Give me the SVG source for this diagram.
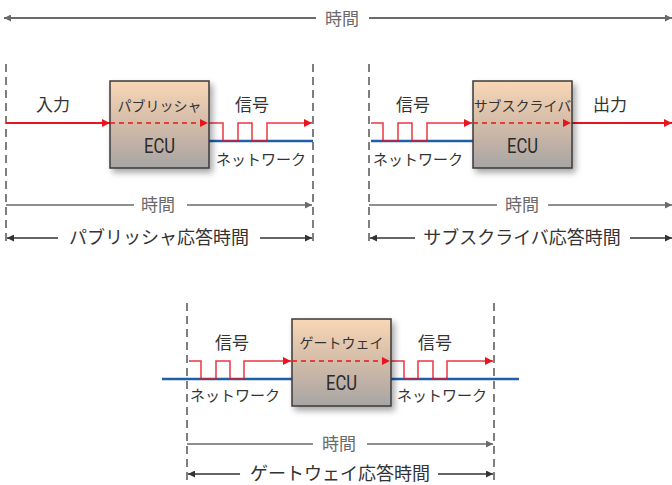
<svg xmlns="http://www.w3.org/2000/svg" width="672" height="485" viewBox="0 0 672 485">
<defs>
<linearGradient id="ecuGrad" x1="0" y1="0" x2="0" y2="1">
<stop offset="0" stop-color="#f9d7b5"/>
<stop offset="0.5" stop-color="#d2bba8"/>
<stop offset="1" stop-color="#a7a5a4"/>
</linearGradient>
<filter id="shadow" x="-20%" y="-20%" width="140%" height="140%">
<feDropShadow dx="3" dy="4" stdDeviation="3" flood-color="#000" flood-opacity="0.35"/>
</filter>
<marker id="ar" viewBox="0 0 10 10" refX="10" refY="5" markerWidth="11" markerHeight="8" markerUnits="userSpaceOnUse" orient="auto"><path d="M0,0 L10,5 L0,10 Z" fill="#e8141e"/></marker>
<marker id="ag" viewBox="0 0 10 10" refX="10" refY="5" markerWidth="11" markerHeight="7" markerUnits="userSpaceOnUse" orient="auto-start-reverse"><path d="M0,0 L10,5 L0,10 Z" fill="#6a6a6a"/></marker>
<marker id="ak" viewBox="0 0 10 10" refX="10" refY="5" markerWidth="11" markerHeight="7" markerUnits="userSpaceOnUse" orient="auto-start-reverse"><path d="M0,0 L10,5 L0,10 Z" fill="#333"/></marker>
</defs>
<style>
text{font-family:"Noto Sans CJK JP","Noto Sans",sans-serif;text-anchor:middle;fill:#333}
.lbl{font-size:17px}
.net{font-size:15px}
.box{fill:url(#ecuGrad);stroke:#3a3a3a;stroke-width:1.5;filter:url(#shadow)}
.title{font-size:14px}
.ecu{font-family:Roboto,"Liberation Sans",sans-serif;font-size:20px;fill:#2a2a2a}
.time{font-size:17px;fill:#6a6a6a}
.resp{font-size:18px;fill:#333}
.tl{stroke:#6a6a6a;stroke-width:1.5;fill:none}
.rl{stroke:#333;stroke-width:1.3;fill:none}
.vd{stroke:#555;stroke-width:1.5;stroke-dasharray:8 5;fill:none}
.red{stroke:#e8141e;stroke-width:2;fill:none}
.sig{stroke:#e8141e;stroke-width:1.5;fill:none;stroke-opacity:0.85}
.rdash{stroke:#e8141e;stroke-width:1.5;stroke-dasharray:5 4;fill:none}
.blue{stroke:#1f5fa8;stroke-width:2.5;fill:none}
</style>

<g id="timeline-top">
<line class="tl" x1="4" y1="18" x2="316" y2="18" marker-start="url(#ag)" style="stroke-width:2"/>
<line class="tl" x1="369" y1="18" x2="672" y2="18" marker-end="url(#ag)" style="stroke-width:2"/>
<text class="time" x="342" y="25">時間</text>
</g>

<g id="guides">
<line class="vd" x1="6" y1="64" x2="6" y2="246"/>
<line class="vd" x1="313" y1="64" x2="313" y2="246"/>
<line class="vd" x1="369" y1="64" x2="369" y2="246"/>
<line class="vd" x1="187" y1="303" x2="187" y2="483"/>
<line class="vd" x1="494" y1="303" x2="494" y2="483"/>
</g>

<g id="connectors">
<!-- publisher -->
<line class="red" x1="6" y1="123" x2="110" y2="123" marker-end="url(#ar)"/>
<line class="blue" x1="209" y1="141" x2="313" y2="141"/>
<path class="sig" d="M209,123 H223 V141 H238 V123 H252 V141 H267 V123 H312" marker-end="url(#ar)"/>
<!-- subscriber -->
<line class="blue" x1="371" y1="141" x2="473" y2="141"/>
<path class="sig" d="M371,123 H383 V141 H398 V123 H412 V141 H427 V123 H472" marker-end="url(#ar)"/>
<line class="red" x1="572" y1="123" x2="672" y2="123" marker-end="url(#ar)"/>
<!-- gateway -->
<line class="blue" x1="162" y1="379" x2="292" y2="379"/>
<line class="blue" x1="391" y1="379" x2="519" y2="379"/>
<path class="sig" d="M189,361 H201 V379 H216 V361 H230 V379 H244 V361 H291" marker-end="url(#ar)"/>
<path class="sig" d="M391,361 H404 V379 H418 V361 H433 V379 H447 V361 H493" marker-end="url(#ar)"/>
<!-- time lines -->
<line class="tl" x1="6" y1="205" x2="134" y2="205"/>
<line class="tl" x1="187" y1="205" x2="312" y2="205" marker-end="url(#ag)"/>
<line class="rl" x1="7" y1="238" x2="58" y2="238" marker-start="url(#ak)"/>
<line class="rl" x1="260" y1="238" x2="312" y2="238" marker-end="url(#ak)"/>
<line class="tl" x1="369" y1="205" x2="497" y2="205"/>
<line class="tl" x1="548" y1="205" x2="672" y2="205" marker-end="url(#ag)"/>
<line class="rl" x1="370" y1="238" x2="415" y2="238" marker-start="url(#ak)"/>
<line class="rl" x1="630" y1="238" x2="672" y2="238" marker-end="url(#ak)"/>
<line class="tl" x1="187" y1="444" x2="313" y2="444"/>
<line class="tl" x1="367" y1="444" x2="493" y2="444" marker-end="url(#ag)"/>
<line class="rl" x1="188" y1="474" x2="240" y2="474" marker-start="url(#ak)"/>
<line class="rl" x1="438" y1="474" x2="493" y2="474" marker-end="url(#ak)"/>
</g>

<g id="publisher">
<rect class="box" x="110" y="81" width="99" height="87"/>
<line class="rdash" x1="110" y1="123" x2="208" y2="123" marker-end="url(#ar)"/>
<text class="title" x="159.5" y="111">パブリッシャ</text>
<text class="ecu" x="159.5" y="153" textLength="31" lengthAdjust="spacingAndGlyphs">ECU</text>
</g>

<g id="subscriber">
<rect class="box" x="473" y="81" width="99" height="87"/>
<line class="rdash" x1="473" y1="123" x2="571" y2="123" marker-end="url(#ar)"/>
<text class="title" x="522.5" y="111">サブスクライバ</text>
<text class="ecu" x="522.5" y="153" textLength="31" lengthAdjust="spacingAndGlyphs">ECU</text>
</g>

<g id="gateway">
<rect class="box" x="292" y="319" width="99" height="87"/>
<line class="rdash" x1="292" y1="361" x2="390" y2="361" marker-end="url(#ar)"/>
<text class="title" x="341.5" y="348">ゲートウェイ</text>
<text class="ecu" x="341.5" y="390" textLength="31" lengthAdjust="spacingAndGlyphs">ECU</text>
</g>

<g id="labels">
<text class="lbl" x="53" y="111">入力</text>
<text class="lbl" x="252" y="111">信号</text>
<text class="net" x="261" y="165">ネットワーク</text>
<text class="time" x="158" y="211">時間</text>
<text class="resp" x="159" y="244">パブリッシャ応答時間</text>
<text class="lbl" x="413" y="111">信号</text>
<text class="net" x="418" y="165">ネットワーク</text>
<text class="lbl" x="610" y="111">出力</text>
<text class="time" x="522" y="211">時間</text>
<text class="resp" x="522" y="244">サブスクライバ応答時間</text>
<text class="lbl" x="232" y="349">信号</text>
<text class="lbl" x="435" y="349">信号</text>
<text class="net" x="235" y="401">ネットワーク</text>
<text class="net" x="442" y="401">ネットワーク</text>
<text class="time" x="339" y="450">時間</text>
<text class="resp" x="340" y="480">ゲートウェイ応答時間</text>
</g>
</svg>
